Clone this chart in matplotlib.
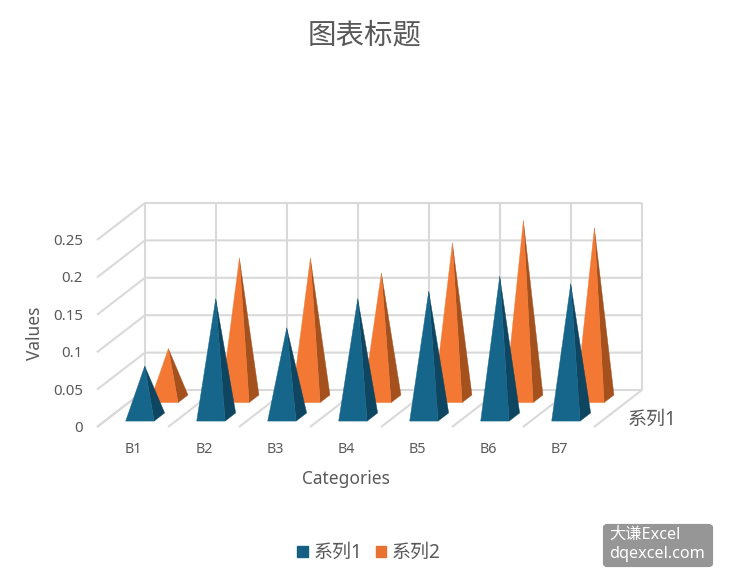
import matplotlib
matplotlib.use('Agg')
import matplotlib.pyplot as plt
from matplotlib.patches import FancyBboxPatch, Patch, Polygon

plt.rcParams['font.family'] = ['Noto Sans', 'Noto Sans CJK SC', 'DejaVu Sans']

categories = ['B1', 'B2', 'B3', 'B4', 'B5', 'B6', 'B7']
series_names = ['系列1', '系列2']
values_1 = [0.068, 0.158, 0.119, 0.158, 0.168, 0.188, 0.178]
values_2 = [0.067, 0.188, 0.188, 0.168, 0.208, 0.238, 0.228]
value_ticks = [0, 0.05, 0.1, 0.15, 0.2, 0.25]
value_tick_labels = ['0', '0.05', '0.1', '0.15', '0.2', '0.25']

GRID = '#D9D9D9'
TEXT = '#595959'
BLUE = '#156082'
ORANGE = '#E97132'

# axes covers the figure: x in categories, y in values, depth goes up and right
W, H = 729, 583
PX_X = 71.0
PX_Y = 748.0
X0, Y0 = 97, 427
DEPTH_X = 48 / PX_X
DEPTH_Y = 37 / PX_Y


def project(x, value, depth):
    return x + depth * DEPTH_X, value + depth * DEPTH_Y


def pyramid(ax, i, value, d_front, d_back, front, side):
    left = i + 0.296
    right = i + 0.696
    apex = project(i + 0.49, value, (d_front + d_back) / 2)
    fl = project(left, 0, d_front)
    fr = project(right, 0, d_front)
    br = project(right, 0, d_back)
    ax.add_patch(Polygon([fr, br, apex], closed=True, fc=side, ec=side, lw=0.3,
                         joinstyle='round', zorder=3))
    ax.add_patch(Polygon([fl, fr, apex], closed=True, fc=front, ec=front, lw=0.3,
                         joinstyle='round', zorder=3))


fig = plt.figure(figsize=(W / 100, H / 100), dpi=100)
ax = fig.add_axes([0, 0, 1, 1])
ax.set_xlim(-X0 / PX_X, (W - X0) / PX_X)
ax.set_ylim(-(H - Y0) / PX_Y, Y0 / PX_Y)
ax.axis('off')

# walls and floor
n = len(categories)
top = value_ticks[-1]
for v in value_ticks:
    xs, ys = zip(project(0, v, 0), project(0, v, 1), project(n, v, 1))
    ax.plot(xs, ys, color=GRID, lw=1.5, solid_capstyle='butt', zorder=1)
for i in range(n + 1):
    xs, ys = zip(project(i, 0, 1), project(i, top, 1))
    ax.plot(xs, ys, color=GRID, lw=1.5, solid_capstyle='butt', zorder=1)
    xs, ys = zip(project(i, 0, 0), project(i, 0, 1))
    ax.plot(xs, ys, color=GRID, lw=1.5, solid_capstyle='butt', zorder=1)

for i, v in enumerate(values_2):
    pyramid(ax, i, v, 0.66, 0.865, '#F37833', '#A5511E')
for i, v in enumerate(values_1):
    pyramid(ax, i, v, 0.16, 0.38, '#16658A', '#0E4560')

# axis texts
for v, lab in zip(value_ticks, value_tick_labels):
    ax.text(-0.197, v - 0.002, lab, ha='right', va='center', fontsize=10.8, color=TEXT)
for i, lab in enumerate(categories):
    ax.text(i + 0.507, -0.0304, lab, ha='center', va='center', fontsize=10.3, color=TEXT)
ax.text(n + 0.48, 0.0095, series_names[0], ha='left', va='center', fontsize=13.7, color=TEXT)
ax.text(-0.87, 0.1257, 'Values', rotation=90, ha='center', va='center', fontsize=12.5, color=TEXT)
ax.text(3.5, -0.0695, 'Categories', ha='center', va='center', fontsize=12.5, color=TEXT)

fig.text(365 / W, 1 - 36 / H, '图表标题', ha='center', va='center', fontsize=20.5, color=TEXT)

handles = [Patch(color=BLUE, label=series_names[0]), Patch(color=ORANGE, label=series_names[1])]
fig.legend(handles=handles, loc='center', bbox_to_anchor=(369 / W, 1 - 553 / H), ncols=2,
           frameon=False, fontsize=13.7, labelcolor=TEXT, handlelength=0.55, handleheight=0.55,
           handletextpad=0.3, columnspacing=0.7)

# watermark
fig.add_artist(FancyBboxPatch((605 / W, 1 - 565 / H), 106 / W, 39 / H, transform=fig.transFigure,
                              boxstyle='round,pad=0,rounding_size=0.003', fc='#969696',
                              ec='#969696', lw=3))
fig.text(609 / W, 1 - 535 / H, '大谦Excel', ha='left', va='center', fontsize=11.7, color='white')
fig.text(609 / W, 1 - 554 / H, 'dqexcel.com', ha='left', va='center', fontsize=11.7, color='white')

fig.savefig('out.png', dpi=100)
